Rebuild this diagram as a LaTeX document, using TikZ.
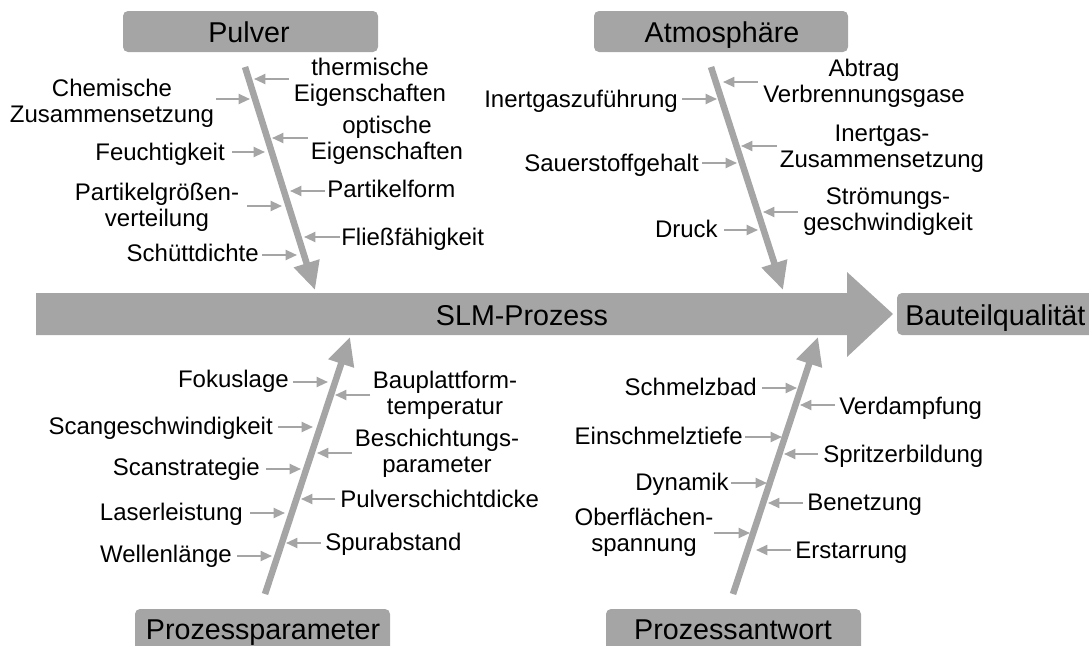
\documentclass[tikz,border=0pt]{standalone}
\usepackage{fontspec}
\setmainfont{Liberation Sans}
\usetikzlibrary{arrows.meta}
\definecolor{fishgray}{RGB}{165,165,165}
\newcommand\labfont{\fontsize{18}{19.5}\selectfont}
\newcommand\titfont{\fontsize{21.5}{24}\selectfont}
\newcommand\fishlabel[6]{%
  \node[lab, anchor=#2] (#1) at #3 {#4};
  \coordinate (#1s) at #5;
  \coordinate (#1e) at #6;
  \draw[sarr] (#1s) -- (#1e);}
\tikzset{
  lab/.style={inner sep=0pt, align=center, font=\labfont, text=black},
  tit/.style={inner sep=0pt, font=\titfont, text=black},
  catbox/.style={fill=fishgray, rounded corners=3.75pt},
  sarr/.style={draw=fishgray, line width=1.5pt, -{Triangle[length=8.5pt,width=7.5pt]}},
  bone/.style={draw=fishgray, line width=4.9pt, -{Triangle[length=21pt,width=19pt]}},
}
\begin{document}
\begin{tikzpicture}[x=0.75pt, y=-0.75pt]
\useasboundingbox (0,0) rectangle (1089,646);
\clip (0,0) rectangle (1089,646);

% main arrow
\fill[fishgray] (36,293) -- (847,293) -- (847,272) -- (893,314) -- (847,357) -- (847,335) -- (36,335) -- cycle;
\node[tit, anchor=base] (slm) at (522,325) {SLM-Prozess};

% category boxes
\path[catbox] (123,11) rectangle (378,52);
\node[tit, anchor=base] (pulver) at (249,42) {Pulver};
\path[catbox] (594,11) rectangle (848,52);
\node[tit, anchor=base] (atmo) at (722,42) {Atmosphäre};
\path[catbox] (135,609) rectangle (390,665);
\node[tit, anchor=base] (param) at (263,639) {Prozessparameter};
\path[catbox] (606,609) rectangle (861,665);
\node[tit, anchor=base] (antw) at (733,639) {Prozessantwort};
\path[catbox] (897,293) rectangle (1110,335);
\node[tit, anchor=base west] (qual) at (905,325) {Bauteilqualität};

% bones
\coordinate (b1s) at (245,67);  \coordinate (b1e) at (315,290);
\coordinate (b2s) at (711,67);  \coordinate (b2e) at (783,290);
\coordinate (b3s) at (265,594); \coordinate (b3e) at (350,337);
\coordinate (b4s) at (733,594); \coordinate (b4e) at (818,337);
\draw[bone] (b1s) -- (b1e);
\draw[bone] (b2s) -- (b2e);
\draw[bone] (b3s) -- (b3e);
\draw[bone] (b4s) -- (b4e);

% Pulver
\fishlabel{chem}{center}{(112,103)}{Chemische\\Zusammensetzung}{(216,99)}{(250,99)}
\fishlabel{feucht}{base east}{(225,160)}{Feuchtigkeit}{(232,152)}{(265,152)}
\fishlabel{pgv}{center}{(157,207)}{Partikelgrößen-\\verteilung}{(247,206)}{(282,206)}
\fishlabel{schuett}{base east}{(259,261)}{Schüttdichte}{(262,255)}{(297,255)}
\fishlabel{therm}{center}{(370,82)}{thermische\\Eigenschaften}{(289,79)}{(254,79)}
\fishlabel{opt}{center}{(387,140)}{optische\\Eigenschaften}{(308,138)}{(272,138)}
\fishlabel{pform}{base west}{(327,197)}{Partikelform}{(325,191)}{(290,191)}
\fishlabel{fliess}{base west}{(341,245)}{Fließfähigkeit}{(340,237)}{(304,237)}

% Atmosphaere
\fishlabel{igz}{base east}{(678,107)}{Inertgaszuführung}{(682,99)}{(717,99)}
\fishlabel{sauer}{base east}{(699,171)}{Sauerstoffgehalt}{(702,163)}{(737,163)}
\fishlabel{druck}{base east}{(718,237)}{Druck}{(724,230)}{(758,230)}
\fishlabel{abtrag}{center}{(864,83)}{Abtrag\\Verbrennungsgase}{(758,82)}{(723,82)}
\fishlabel{igzus}{center}{(882,149)}{Inertgas-\\Zusammensetzung}{(777,146)}{(741,146)}
\fishlabel{stroem}{center}{(888,212)}{Strömungs-\\geschwindigkeit}{(798,212)}{(763,212)}

% Prozessparameter
\fishlabel{fokus}{base east}{(289,387)}{Fokuslage}{(293,382)}{(328,382)}
\fishlabel{scang}{base east}{(273,434)}{Scangeschwindigkeit}{(278,427)}{(313,427)}
\fishlabel{scans}{base east}{(260,475)}{Scanstrategie}{(266,469)}{(301,469)}
\fishlabel{laser}{base east}{(243,520)}{Laserleistung}{(250,513)}{(285,513)}
\fishlabel{welle}{base east}{(232,562)}{Wellenlänge}{(237,556)}{(272,556)}
\fishlabel{baupl}{center}{(445,395)}{Bauplattform-\\temperatur}{(370,395)}{(335,395)}
\fishlabel{besch}{center}{(437,453)}{Beschichtungs-\\parameter}{(352,453)}{(317,453)}
\fishlabel{psd}{base west}{(340,507)}{Pulverschichtdicke}{(335,499)}{(301,499)}
\fishlabel{spur}{base west}{(325,550)}{Spurabstand}{(321,543)}{(286,543)}

% Prozessantwort
\fishlabel{schmelz}{base east}{(757,395)}{Schmelzbad}{(762,388)}{(797,388)}
\fishlabel{einsch}{base east}{(743,444)}{Einschmelztiefe}{(745,437)}{(782,437)}
\fishlabel{dyn}{base east}{(729,490)}{Dynamik}{(731,483)}{(767,483)}
\fishlabel{oberfl}{center}{(644,532)}{Oberflächen-\\spannung}{(714,533)}{(750,533)}
\fishlabel{verd}{base west}{(839,414)}{Verdampfung}{(835,405)}{(800,405)}
\fishlabel{spritz}{base west}{(823,462)}{Spritzerbildung}{(818,454)}{(784,454)}
\fishlabel{benetz}{base west}{(807,510)}{Benetzung}{(803,503)}{(768,503)}
\fishlabel{erst}{base west}{(795,558)}{Erstarrung}{(791,550)}{(756,550)}
\end{tikzpicture}
\end{document}
